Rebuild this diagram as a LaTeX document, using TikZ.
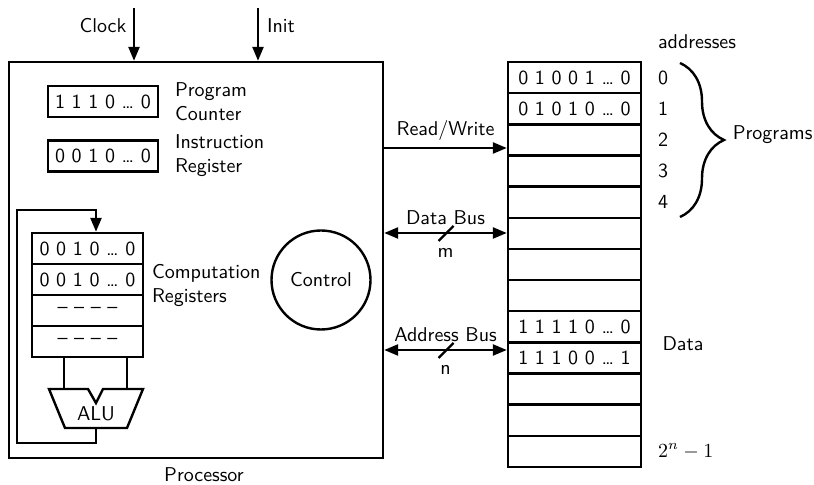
\documentclass[tikz,border=0pt]{standalone}
\usepackage{amsmath}
\usetikzlibrary{arrows.meta,positioning,decorations.pathreplacing}
\renewcommand{\familydefault}{\sfdefault}

\tikzset{
  reg/.style={draw,minimum width=55pt,minimum height=15.5pt,inner sep=0pt},
  cell/.style={draw,minimum width=66.5pt,minimum height=15.58pt,inner sep=0pt},
  sig/.style={-{Triangle[length=7pt,width=5.5pt]}},
  bus/.style={{Triangle[length=7pt,width=5.5pt]}-{Triangle[length=7pt,width=5.5pt]}},
}

\begin{document}
\begin{tikzpicture}[x=0.5pt,y=-0.5pt,line width=1.2pt]
  \useasboundingbox (0,0) rectangle (814,485);
  % processor
  \node[draw,minimum width=187pt,minimum height=198pt,inner sep=0pt] (proc) at (196,260) {};
  \node[below=0.5pt of proc.south,xshift=4pt] (proclbl) {Processor};
  \coordinate (clk) at (134,8); \coordinate (ini) at (258,8);
  \draw[sig] (clk) -- (clk |- proc.north); \node (clock) at (103,26) {Clock};
  \draw[sig] (ini) -- (ini |- proc.north); \node (init) at (281,26) {Init};
  \node[reg] (pc) at (103,101.5) {1 1 1 0 \ldots\ 0};
  \node[right=4pt of pc,align=left] (pclbl) {Program\\Counter};
  \node[reg] (ir) at (103,156) {0 0 1 0 \ldots\ 0};
  \node[right=4pt of ir,align=left] (irlbl) {Instruction\\Register};
  \foreach \i/\bits in {1/{0 0 1 0 \ldots\ 0},2/{0 0 1 0 \ldots\ 0},3/{-- -- -- --},4/{-- -- -- --}}
    \node[reg,minimum width=55.5pt] (r\i) at (87.5,217.5+31*\i) {\bits};
  \node[right=0pt of r2,yshift=-3pt,align=left] (rlbl) {Computation\\Registers};
  % alu and its feedback loop
  \coordinate (aluA) at (64,389); \coordinate (aluB) at (127,389);
  \coordinate (aluout) at (96,428); \coordinate (fb) at (17,210);
  \draw (49,389) -- (65,428) -- (127,428) -- (143,389) -- (103,389) -- (96,403) -- (88,389) -- cycle;
  \node (alu) at (96,413.5) {ALU};
  \draw (aluA |- r4.south) -- (aluA);
  \draw (aluB |- r4.south) -- (aluB);
  \draw[sig] (aluout) -- ++(0,15) -| (fb) -| (r1.north -| aluout);
  \node[draw,circle,minimum size=49.5pt,inner sep=0pt] (ctrl) at (321,280) {Control};
  % memory
  \foreach \i/\bits in {0/{0 1 0 0 1 \ldots\ 0},1/{0 1 0 1 0 \ldots\ 0},2/{},3/{},4/{},5/{},6/{},7/{},
      8/{1 1 1 1 0 \ldots\ 0},9/{1 1 1 0 0 \ldots\ 1},10/{},11/{},12/{}}
    \node[cell] (m\i) at (574.5,77.6+31.15*\i) {\bits};
  \foreach \i in {0,...,4}
    \node[right=4pt of m\i] (a\i) {\i};
  \node[right=4pt of m12] (alast) {$2^n-1$};
  \node[anchor=west] (addr) at (a0.west |- 0,42) {addresses};
  \draw[decorate,decoration={brace,amplitude=22pt}] (680,63) -- (680,217);
  \node[anchor=west] (prog) at (725,135) {Programs};
  \node (data) at (683,344) {Data};
  % buses
  \coordinate (rw) at (proc.east |- 0,148);
  \coordinate (db) at (proc.east |- 0,233);
  \coordinate (ab) at (proc.east |- 0,350);
  \draw[sig] (rw) -- (rw -| m2.west) node[midway,above] (rwlbl) {Read/Write};
  \draw[bus] (db) -- (db -| m5.west) node[midway,above] (dblbl) {Data Bus}
    node[midway,below=4pt] (dbw) {m} coordinate[midway] (dbmid);
  \draw[bus] (ab) -- (ab -| m9.west) node[midway,above] (ablbl) {Address Bus}
    node[midway,below=4pt] (abw) {n} coordinate[midway] (abmid);
  \draw ([shift={(-7,8)}]dbmid) -- ([shift={(8,-7)}]dbmid);
  \draw ([shift={(-7,8)}]abmid) -- ([shift={(8,-7)}]abmid);
\end{tikzpicture}
\end{document}
